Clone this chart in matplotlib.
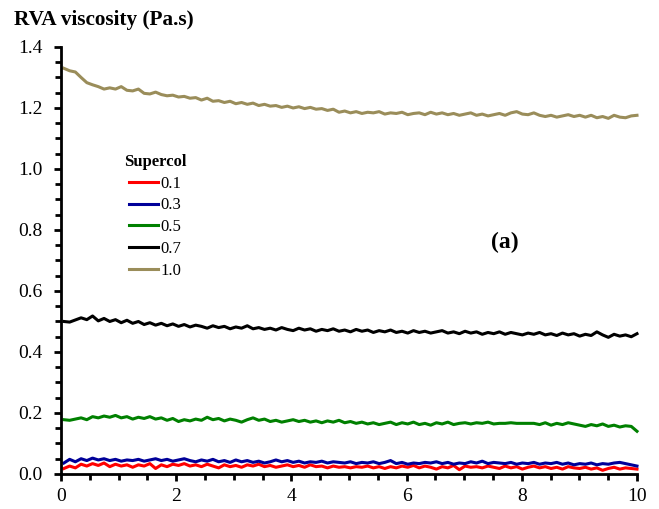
import numpy as np
import matplotlib
matplotlib.use('Agg')
from matplotlib import pyplot as plt
from matplotlib.ticker import MultipleLocator

plt.rcParams['font.family'] = ['Liberation Serif', 'DejaVu Serif']

# Supercol concentrations and curves (viscosity, Pa.s)
labels = ['0.1', '0.3', '0.5', '0.7', '1.0']
colors = ['#ff0000', '#000099', '#008000', '#000000', '#9a8d5a']

v01 = [0.018, 0.026, 0.020, 0.032, 0.026, 0.034, 0.028, 0.036, 0.024, 0.032, 0.026, 0.030, 0.022, 0.030, 0.026,
       0.034, 0.018, 0.030, 0.024, 0.032, 0.028, 0.034, 0.026, 0.030, 0.024, 0.032, 0.026, 0.020, 0.030, 0.024,
       0.028, 0.022, 0.030, 0.026, 0.032, 0.024, 0.028, 0.022, 0.026, 0.030, 0.024, 0.028, 0.022, 0.030, 0.024,
       0.026, 0.020, 0.026, 0.022, 0.024, 0.020, 0.024, 0.022, 0.026, 0.020, 0.024, 0.018, 0.024, 0.020, 0.026,
       0.022, 0.028, 0.020, 0.026, 0.022, 0.016, 0.024, 0.020, 0.028, 0.014, 0.026, 0.022, 0.024, 0.020, 0.026,
       0.022, 0.018, 0.026, 0.020, 0.024, 0.016, 0.022, 0.026, 0.020, 0.024, 0.018, 0.022, 0.016, 0.024, 0.020,
       0.018, 0.022, 0.016, 0.020, 0.012, 0.018, 0.022, 0.016, 0.020, 0.018, 0.016]
v03 = [0.036, 0.048, 0.040, 0.050, 0.044, 0.052, 0.046, 0.050, 0.044, 0.048, 0.042, 0.046, 0.044, 0.048, 0.042,
       0.046, 0.050, 0.044, 0.048, 0.042, 0.046, 0.050, 0.044, 0.040, 0.046, 0.042, 0.048, 0.040, 0.044, 0.038,
       0.046, 0.040, 0.044, 0.038, 0.042, 0.036, 0.040, 0.046, 0.040, 0.044, 0.038, 0.042, 0.036, 0.040, 0.038,
       0.042, 0.036, 0.040, 0.038, 0.036, 0.040, 0.034, 0.038, 0.036, 0.040, 0.034, 0.038, 0.044, 0.034, 0.038,
       0.032, 0.036, 0.034, 0.038, 0.036, 0.040, 0.034, 0.038, 0.032, 0.036, 0.034, 0.040, 0.036, 0.042, 0.034,
       0.038, 0.036, 0.034, 0.038, 0.032, 0.036, 0.034, 0.038, 0.032, 0.036, 0.034, 0.038, 0.032, 0.036, 0.030,
       0.034, 0.032, 0.036, 0.030, 0.034, 0.032, 0.036, 0.038, 0.034, 0.030, 0.026]
v05 = [0.178, 0.176, 0.180, 0.184, 0.178, 0.188, 0.184, 0.190, 0.186, 0.192, 0.184, 0.188, 0.180, 0.186, 0.182,
       0.188, 0.180, 0.184, 0.176, 0.182, 0.172, 0.178, 0.174, 0.180, 0.176, 0.186, 0.178, 0.182, 0.174, 0.180,
       0.176, 0.170, 0.178, 0.184, 0.176, 0.180, 0.172, 0.176, 0.170, 0.174, 0.178, 0.172, 0.176, 0.170, 0.174,
       0.168, 0.174, 0.170, 0.176, 0.168, 0.172, 0.166, 0.170, 0.164, 0.168, 0.162, 0.166, 0.170, 0.162, 0.168,
       0.164, 0.170, 0.162, 0.166, 0.160, 0.168, 0.164, 0.170, 0.162, 0.166, 0.168, 0.164, 0.168, 0.166, 0.170,
       0.164, 0.166, 0.166, 0.168, 0.166, 0.166, 0.166, 0.166, 0.162, 0.168, 0.160, 0.166, 0.162, 0.168, 0.164,
       0.160, 0.156, 0.162, 0.158, 0.164, 0.156, 0.160, 0.154, 0.158, 0.156, 0.140]
v07 = [0.500, 0.498, 0.505, 0.512, 0.506, 0.518, 0.502, 0.510, 0.500, 0.506, 0.496, 0.504, 0.494, 0.500, 0.490,
       0.496, 0.488, 0.494, 0.486, 0.492, 0.484, 0.490, 0.482, 0.488, 0.484, 0.478, 0.486, 0.480, 0.484, 0.476,
       0.482, 0.478, 0.486, 0.476, 0.480, 0.474, 0.478, 0.472, 0.480, 0.474, 0.470, 0.478, 0.472, 0.476, 0.468,
       0.474, 0.470, 0.476, 0.468, 0.472, 0.466, 0.474, 0.468, 0.472, 0.464, 0.470, 0.466, 0.472, 0.464, 0.468,
       0.462, 0.470, 0.464, 0.468, 0.462, 0.466, 0.470, 0.462, 0.466, 0.460, 0.468, 0.462, 0.466, 0.458, 0.464,
       0.460, 0.466, 0.458, 0.464, 0.460, 0.456, 0.462, 0.458, 0.464, 0.456, 0.460, 0.454, 0.462, 0.456, 0.460,
       0.452, 0.458, 0.454, 0.466, 0.456, 0.448, 0.458, 0.452, 0.456, 0.450, 0.460]
v10 = [1.330, 1.322, 1.318, 1.300, 1.283, 1.276, 1.270, 1.262, 1.266, 1.262, 1.270, 1.258, 1.256, 1.262, 1.248,
       1.246, 1.252, 1.244, 1.240, 1.242, 1.236, 1.238, 1.232, 1.234, 1.226, 1.232, 1.222, 1.224, 1.218, 1.222,
       1.214, 1.218, 1.212, 1.216, 1.208, 1.212, 1.206, 1.208, 1.202, 1.206, 1.200, 1.204, 1.198, 1.202, 1.196,
       1.198, 1.192, 1.196, 1.186, 1.190, 1.184, 1.188, 1.182, 1.186, 1.184, 1.188, 1.180, 1.184, 1.182, 1.186,
       1.178, 1.182, 1.184, 1.178, 1.186, 1.180, 1.184, 1.178, 1.182, 1.176, 1.180, 1.184, 1.176, 1.180, 1.174,
       1.178, 1.182, 1.176, 1.184, 1.188, 1.180, 1.178, 1.184, 1.176, 1.172, 1.176, 1.170, 1.174, 1.178, 1.172,
       1.176, 1.170, 1.176, 1.168, 1.172, 1.166, 1.176, 1.170, 1.168, 1.174, 1.176]
series = [v01, v03, v05, v07, v10]

fig = plt.figure(figsize=(6.59, 5.09), dpi=100)
ax = fig.add_axes([0.0926, 0.0688, 0.8740, 0.8389])

for vals, lab, col in zip(series, labels, colors):
    t = np.linspace(0.05, 10, len(vals))
    ax.plot(t, vals, color=col, lw=2.2, label=lab, clip_on=False)

ax.set_xlim(0, 10)
ax.set_ylim(0, 1.4)
ax.xaxis.set_major_locator(MultipleLocator(2))
ax.xaxis.set_minor_locator(MultipleLocator(0.5))
ax.yaxis.set_major_locator(MultipleLocator(0.2))
ax.yaxis.set_minor_locator(MultipleLocator(0.05))
ax.yaxis.set_major_formatter(plt.FuncFormatter(lambda v, p: '%.1f' % v))
ax.xaxis.set_major_formatter(plt.FuncFormatter(lambda v, p: '%d' % v))

for s in ['top', 'right']:
    ax.spines[s].set_visible(False)
for s in ['left', 'bottom']:
    ax.spines[s].set_linewidth(2)
ax.tick_params(which='both', direction='out', width=2, labelsize=14)
ax.tick_params(which='major', length=5)
ax.tick_params(which='minor', length=4)
ax.tick_params(axis='x', pad=5)
ax.tick_params(axis='y', pad=8)

fig.text(0.021, 0.961, 'RVA viscosity (Pa.s)', fontsize=15.3, fontweight='bold', va='center', ha='left')
ax.text(7.71, 0.76, '(a)', fontsize=17, fontweight='bold', ha='center', va='center')

leg = ax.legend(loc='upper left', bbox_to_anchor=(0.083, 0.785), frameon=False, fontsize=12,
                title='Supercol', handlelength=1.7, handletextpad=0.15, labelspacing=0.35)
leg.get_title().set_fontweight('bold')
leg.get_title().set_fontsize(12)
leg._legend_box.align = 'center'

fig.savefig('out.png', dpi=100)
